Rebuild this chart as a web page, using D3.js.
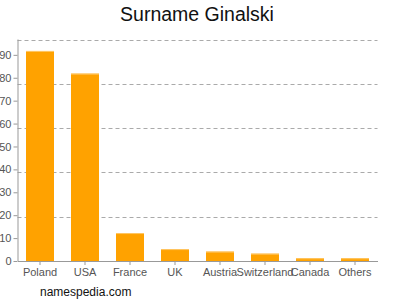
<!DOCTYPE html>
<html>
<head>
<meta charset="utf-8">
<script src="https://cdn.jsdelivr.net/npm/d3@7"></script>
<style>
body { margin: 0; background: #fff; }
text { font-family: "Liberation Sans", Arial, sans-serif; }
</style>
</head>
<body>
<svg width="400" height="300"></svg>
<script>
var countries = ['Poland', 'USA', 'France', 'UK', 'Austria', 'Switzerland', 'Canada', 'Others'];
var values = [91.7, 81.8, 12.2, 5.2, 4.1, 3.2, 1.2, 1.2];
var yTicks = [0, 10, 20, 30, 40, 50, 60, 70, 80, 90];
var yMax = 96.7;

var svg = d3.select('svg');
var plotLeft = 17.5, plotRight = 377.5, plotTop = 39.5, plotBottom = 261;

var x = d3.scaleBand()
    .domain(countries)
    .range([plotLeft, plotRight])
    .paddingInner(0.378)
    .paddingOuter(0.189);

var y = d3.scaleLinear()
    .domain([0, yMax])
    .range([plotBottom, plotTop]);

// dashed grid, five even divisions of the plot height
var grid = d3.range(1, 6).map(i => yMax * i / 5);
svg.selectAll('line.grid')
    .data(grid)
    .enter().append('line')
    .attr('class', 'grid')
    .attr('x1', plotLeft)
    .attr('x2', plotRight)
    .attr('y1', d => Math.round(y(d)) + 0.5)
    .attr('y2', d => Math.round(y(d)) + 0.5)
    .attr('stroke', '#aaa')
    .attr('stroke-dasharray', '4,3');

svg.selectAll('rect.bar')
    .data(values)
    .enter().append('rect')
    .attr('class', 'bar')
    .attr('x', (d, i) => x(countries[i]))
    .attr('y', d => y(d))
    .attr('width', x.bandwidth())
    .attr('height', d => plotBottom - y(d))
    .attr('fill', '#ffa200');

svg.selectAll('line.cap')
    .data(values)
    .enter().append('line')
    .attr('class', 'cap')
    .attr('x1', (d, i) => x(countries[i]))
    .attr('x2', (d, i) => x(countries[i]) + x.bandwidth())
    .attr('y1', d => y(d) + 0.5)
    .attr('y2', d => y(d) + 0.5)
    .attr('stroke', '#ffc766');

var yAxis = svg.append('g')
    .attr('transform', 'translate(' + plotLeft + ',0)')
    .call(d3.axisLeft(y).tickValues(yTicks).tickSize(4).tickSizeOuter(0).tickPadding(2));

var xAxis = svg.append('g')
    .attr('transform', 'translate(0,' + plotBottom + ')')
    .call(d3.axisBottom(x).tickSize(4).tickSizeOuter(0).tickPadding(3));

[yAxis, xAxis].forEach(g => {
    g.select('.domain').attr('stroke', '#999');
    g.selectAll('.tick line').attr('stroke', '#999');
    g.selectAll('.tick text')
        .attr('fill', '#555')
        .style('font-size', '11px')
        .style('font-family', '"Liberation Sans", Arial, sans-serif');
});

yAxis.select('.domain').attr('d', 'M0.5,' + plotTop + 'V' + plotBottom);

svg.append('text')
    .attr('x', 197)
    .attr('y', 21)
    .attr('text-anchor', 'middle')
    .style('font-size', '19.5px')
    .attr('fill', '#111')
    .text('Surname Ginalski');

svg.append('text')
    .attr('x', 40)
    .attr('y', 296)
    .style('font-size', '12px')
    .attr('fill', '#111')
    .text('namespedia.com');
</script>
</body>
</html>
